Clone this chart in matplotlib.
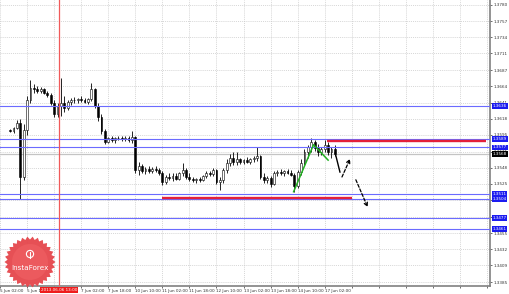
import numpy as np
import matplotlib
matplotlib.use("Agg")
import matplotlib.pyplot as plt
import matplotlib.transforms as mtransforms
from matplotlib.patches import Polygon, Circle

# H2 candles (bar index 0 = left edge)
opens = [1.3602, 1.3600, 1.3605, 1.3612, 1.3535, 1.3602, 1.3645, 1.3662, 1.3660, 1.3658,
         1.3660, 1.3655, 1.3652, 1.3640, 1.3625, 1.3636, 1.3640, 1.3633, 1.3642, 1.3645,
         1.3644, 1.3646, 1.3644, 1.3642, 1.3646, 1.3660, 1.3636, 1.3620, 1.3600, 1.3585,
         1.3590, 1.3588, 1.3590, 1.3591, 1.3589, 1.3591, 1.3587, 1.3592, 1.3545, 1.3550,
         1.3543, 1.3546, 1.3544, 1.3547, 1.3545, 1.3540, 1.3528, 1.3535, 1.3533, 1.3537,
         1.3532, 1.3540, 1.3545, 1.3535, 1.3532, 1.3530, 1.3532, 1.3531, 1.3536, 1.3540,
         1.3539, 1.3545, 1.3528, 1.3530, 1.3545, 1.3555, 1.3562, 1.3556, 1.3560, 1.3556,
         1.3559, 1.3557, 1.3560, 1.3562, 1.3565, 1.3535, 1.3530, 1.3533, 1.3525, 1.3540,
         1.3542, 1.3541, 1.3543, 1.3540, 1.3538, 1.3522, 1.3542, 1.3555, 1.3570, 1.3577,
         1.3585, 1.3576, 1.3570, 1.3575, 1.3580, 1.3570, 1.3575]
highs = [1.3604, 1.3606, 1.3616, 1.3617, 1.3610, 1.3650, 1.3673, 1.3668, 1.3664, 1.3663,
         1.3662, 1.3658, 1.3655, 1.3644, 1.3640, 1.3676, 1.3650, 1.3645, 1.3648, 1.3649,
         1.3648, 1.3650, 1.3647, 1.3648, 1.3669, 1.3662, 1.3640, 1.3624, 1.3604, 1.3592,
         1.3593, 1.3592, 1.3594, 1.3594, 1.3593, 1.3593, 1.3600, 1.3594, 1.3556, 1.3553,
         1.3549, 1.3550, 1.3549, 1.3551, 1.3548, 1.3543, 1.3538, 1.3541, 1.3540, 1.3541,
         1.3542, 1.3555, 1.3548, 1.3540, 1.3535, 1.3534, 1.3535, 1.3538, 1.3543, 1.3544,
         1.3548, 1.3547, 1.3535, 1.3548, 1.3560, 1.3568, 1.3570, 1.3571, 1.3562, 1.3561,
         1.3563, 1.3562, 1.3565, 1.3578, 1.3567, 1.3540, 1.3536, 1.3536, 1.3543, 1.3545,
         1.3546, 1.3545, 1.3547, 1.3545, 1.3541, 1.3545, 1.3560, 1.3575, 1.3580, 1.3590,
         1.3588, 1.3582, 1.3578, 1.3588, 1.3585, 1.3578, 1.3580]
lows = [1.3599, 1.3598, 1.3603, 1.3504, 1.3530, 1.3595, 1.3640, 1.3655, 1.3655, 1.3654,
        1.3653, 1.3649, 1.3638, 1.3620, 1.3620, 1.3622, 1.3628, 1.3630, 1.3638, 1.3640,
        1.3641, 1.3642, 1.3640, 1.3639, 1.3643, 1.3633, 1.3615, 1.3596, 1.3582, 1.3583,
        1.3585, 1.3584, 1.3587, 1.3586, 1.3586, 1.3585, 1.3584, 1.3540, 1.3538, 1.3540,
        1.3539, 1.3541, 1.3540, 1.3542, 1.3538, 1.3524, 1.3525, 1.3530, 1.3529, 1.3530,
        1.3530, 1.3536, 1.3532, 1.3529, 1.3528, 1.3527, 1.3528, 1.3529, 1.3534, 1.3537,
        1.3536, 1.3525, 1.3516, 1.3527, 1.3540, 1.3550, 1.3552, 1.3552, 1.3553, 1.3553,
        1.3555, 1.3554, 1.3556, 1.3558, 1.3532, 1.3527, 1.3526, 1.3521, 1.3523, 1.3537,
        1.3538, 1.3537, 1.3539, 1.3536, 1.3514, 1.3520, 1.3538, 1.3550, 1.3562, 1.3570,
        1.3572, 1.3565, 1.3566, 1.3570, 1.3566, 1.3562, 1.3565]
closes = [1.3600, 1.3605, 1.3612, 1.3535, 1.3602, 1.3645, 1.3662, 1.3660, 1.3658, 1.3660,
          1.3655, 1.3652, 1.3640, 1.3625, 1.3636, 1.3640, 1.3633, 1.3642, 1.3645, 1.3644,
          1.3646, 1.3644, 1.3642, 1.3646, 1.3660, 1.3636, 1.3620, 1.3600, 1.3585, 1.3590,
          1.3588, 1.3590, 1.3591, 1.3589, 1.3591, 1.3587, 1.3592, 1.3545, 1.3550, 1.3543,
          1.3546, 1.3544, 1.3547, 1.3545, 1.3540, 1.3528, 1.3535, 1.3533, 1.3537, 1.3532,
          1.3540, 1.3545, 1.3535, 1.3532, 1.3530, 1.3532, 1.3531, 1.3536, 1.3540, 1.3539,
          1.3545, 1.3528, 1.3530, 1.3545, 1.3555, 1.3562, 1.3556, 1.3560, 1.3556, 1.3559,
          1.3557, 1.3560, 1.3562, 1.3565, 1.3535, 1.3530, 1.3533, 1.3525, 1.3540, 1.3542,
          1.3541, 1.3543, 1.3540, 1.3538, 1.3522, 1.3542, 1.3555, 1.3570, 1.3577, 1.3585,
          1.3576, 1.3570, 1.3575, 1.3580, 1.3570, 1.3575, 1.3568]

# horizontal levels (blue), current price, red zones
blue_levels = [1.3636, 1.3589, 1.3577, 1.3511, 1.3504, 1.3477, 1.3461]
current_price = 1.3568
red_levels = [1.3586, 1.3505]
red_starts = [93.8, 44.8]
red_ends = [140.7, 101.0]

# green wave and forecast path
green_x = [83.8, 89.7, 94.0]
green_y = [1.3514, 1.3581, 1.3559]
drop_x = [96.1, 97.5]
drop_y = [1.3569, 1.3542]
arrow_up = [(98.1, 1.3535), (100.5, 1.3561)]
arrow_down = [(102.2, 1.3531), (105.7, 1.3492)]

crosshair_x = 14.45
crosshair_label = "2013.06.06 13:00"

price_ticks = [1.3780, 1.3757, 1.3734, 1.3711, 1.3687, 1.3664, 1.3641, 1.3618, 1.3595,
               1.3571, 1.3548, 1.3525, 1.3502, 1.3478, 1.3455, 1.3432, 1.3409, 1.3385]
time_ticks = [-3, 5, 13, 21, 29, 37, 45, 53, 61, 69, 77, 85, 93, 101, 109, 117, 125, 133, 141]
time_labels = ["5 Jun 02:00", "5 Jun 18:00", "6 Jun 10:00", "7 Jun 02:00", "7 Jun 18:00",
               "10 Jun 10:00", "11 Jun 02:00", "11 Jun 18:00", "12 Jun 10:00",
               "13 Jun 02:00", "13 Jun 18:00", "14 Jun 10:00", "17 Jun 02:00",
               "", "", "", "", "", ""]

fig = plt.figure(figsize=(5.1, 2.94), dpi=100)
ax = fig.add_axes([0, 8 / 294, 490 / 510, 286 / 294])

o = np.array(opens); h = np.array(highs); l = np.array(lows); c = np.array(closes)
x = np.arange(len(c))
ax.vlines(x, l, h, color="black", lw=0.6, zorder=2)
bull = c >= o
ax.bar(x[bull], c[bull] - o[bull], bottom=o[bull], width=0.55,
       color="white", edgecolor="black", lw=0.4, zorder=2)
ax.bar(x[~bull], c[~bull] - o[~bull], bottom=o[~bull], width=0.55,
       color="black", edgecolor="black", lw=0.4, zorder=2)

ax.axhline(current_price, color="#c4c4c4", lw=0.9, zorder=1.5)
for v in blue_levels:
    ax.axhline(v, color="#6b6bff", lw=0.8, zorder=3)
for v, x0, x1 in zip(red_levels, red_starts, red_ends):
    ax.hlines(v, x0, x1, color="#e3203a", lw=1.7, zorder=4)

ax.axvline(crosshair_x, color="#f05a5a", lw=0.9, zorder=3.5)

ax.plot(green_x, green_y, color="#22b022", lw=1.1, zorder=5)
ax.plot(drop_x, drop_y, color="black", lw=1.0, zorder=5)
for (xs, ys), (xe, ye) in [arrow_up, arrow_down]:
    ax.annotate("", xy=(xe, ye), xytext=(xs, ys),
                arrowprops=dict(arrowstyle="->", ls=(0, (2.5, 1.5)), lw=0.9,
                                color="black", mutation_scale=6, shrinkA=0, shrinkB=0),
                zorder=5)

ax.set_xlim(-1, 141.86)
ax.set_ylim(1.33797, 1.37871)

for side in ["left", "top"]:
    ax.spines[side].set_visible(False)
for side in ["right", "bottom"]:
    ax.spines[side].set_color("#808080")
    ax.spines[side].set_linewidth(1.2)

ax.yaxis.tick_right()
ax.set_yticks(price_ticks)
ax.set_yticklabels([f"{v:.4f}" for v in price_ticks])
ax.tick_params(axis="y", labelsize=3.0, length=1.5, pad=1, colors="#333333", width=0.5)
ax.set_xticks(time_ticks)
ax.set_xticklabels(time_labels)
ax.tick_params(axis="x", labelsize=2.95, length=1.5, pad=1, colors="#333333", width=0.5)
for lab in ax.get_xticklabels():
    lab.set_ha("left")
ax.grid(True, ls=(0, (1.5, 1.5)), color="#c8c8c8", lw=0.5)

# price boxes on the right scale
ytrans = ax.get_yaxis_transform()
for v in blue_levels:
    ax.text(1.005, v, f"{v:.4f}", transform=ytrans, fontsize=3.0, color="white",
            va="center", ha="left", clip_on=False, zorder=6,
            bbox=dict(boxstyle="square,pad=0.2", fc="#1c1cf0", ec="none"))
ax.text(1.005, current_price, f"{current_price:.4f}", transform=ytrans, fontsize=3.0,
        color="white", va="center", ha="left", clip_on=False, zorder=6,
        bbox=dict(boxstyle="square,pad=0.2", fc="black", ec="none"))

# crosshair time label
xtrans = mtransforms.blended_transform_factory(ax.transData, ax.transAxes)
ax.text(crosshair_x, -0.006, crosshair_label, transform=xtrans, fontsize=3.0,
        color="white", ha="center", va="top", clip_on=False, zorder=6,
        bbox=dict(boxstyle="square,pad=0.25", fc="#ee1c1c", ec="none"))

# InstaForex badge
deco = fig.add_axes([0, 0, 1, 1], zorder=10)
deco.set_xlim(0, 510)
deco.set_ylim(294, 0)
deco.axis("off")
deco.patch.set_alpha(0)
ang = np.linspace(0, 2 * np.pi, 61)[:-1]
rad = np.where(np.arange(60) % 2 == 0, 25.5, 22.5)
star = Polygon(np.column_stack([30 + rad * np.cos(ang), 262 + rad * np.sin(ang)]),
               closed=True, fc="#e5464c", ec="none", alpha=0.95)
deco.add_patch(star)
deco.add_patch(Circle((30, 262), 18, fc="#ec5a5e", ec="none"))
deco.add_patch(Circle((30, 254), 3.6, fc="none", ec="white", lw=0.8))
deco.plot([30, 30], [252, 258], color="white", lw=0.8)
deco.text(30, 268, "InstaForex", color="white", fontsize=5.2, ha="center", va="center")

fig.savefig("out.png", dpi=100)
